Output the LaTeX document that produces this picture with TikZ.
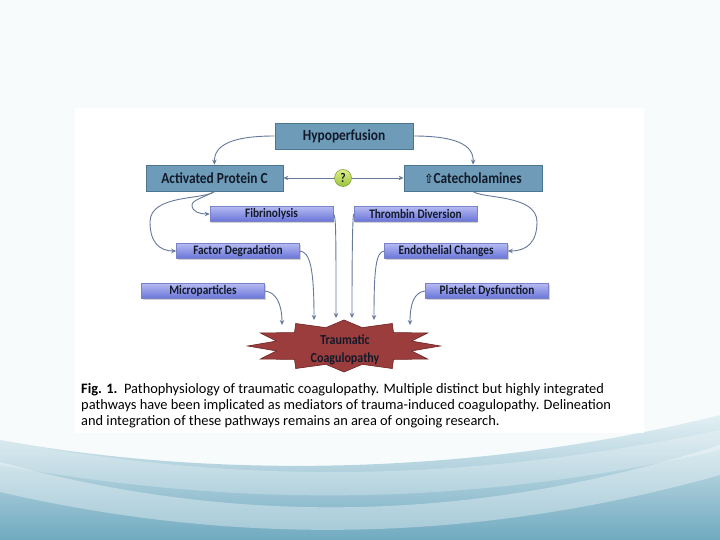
\documentclass[tikz,border=0pt]{standalone}
\usepackage{fontspec}
\setmainfont{Carlito}
\newfontfamily\dejavu{DejaVu Sans}
\usetikzlibrary{arrows.meta,calc,shadows}
\newcommand{\vstr}[1]{\scalebox{1}[1.15]{#1}}
\definecolor{bgtop}{HTML}{F7FBFC}
\definecolor{wavetop}{HTML}{E4F0F4}
\definecolor{wavebot}{HTML}{70AAC0}
\definecolor{bigfill}{HTML}{6E9CB8}
\definecolor{bigline}{HTML}{4C7590}
\definecolor{smtop}{HTML}{B4BAF2}
\definecolor{smbot}{HTML}{6A74D8}
\definecolor{smline}{HTML}{7A82C8}
\definecolor{conncol}{HTML}{65799A}
\definecolor{txtcol}{HTML}{121A2A}
\definecolor{starfill}{HTML}{9C3D3D}
\definecolor{starline}{HTML}{6E2222}
\definecolor{qtop}{HTML}{E2F08A}
\definecolor{qbot}{HTML}{97C23A}
\begin{document}
\begin{tikzpicture}[x=1pt,y=-1pt,
  bigbox/.style={draw=bigline, line width=0.8pt, fill=bigfill, inner sep=0pt,
    minimum height=26pt, text=txtcol, font=\fontsize{13.4}{15}\selectfont\bfseries},
  smallbox/.style={draw=smline, line width=0.5pt, top color=smtop, bottom color=smbot,
    inner sep=0pt, minimum height=15pt, minimum width=123pt, text=txtcol,
    font=\fontsize{11.3}{13}\selectfont\bfseries,
    drop shadow={shadow xshift=1.2pt, shadow yshift=-1.2pt, opacity=0.35}},
  conn/.style={draw=conncol, line width=0.9pt, -{Stealth[length=5pt,width=4.5pt]}},
]
\useasboundingbox (0,0) rectangle (720,540);
% background slide
\fill[bgtop] (0,0) rectangle (720,540);
\shade[top color=wavetop, bottom color=wavebot]
  (0,440) .. controls (220,480) and (480,475) .. (720,415) -- (720,540) -- (0,540) -- cycle;
\fill[white, opacity=0.35]
  (0,462) .. controls (230,525) and (470,525) .. (720,445) -- (720,475)
  .. controls (470,545) and (230,545) .. (0,492) -- cycle;
\fill[white, opacity=0.25]
  (0,440) .. controls (250,488) and (480,480) .. (720,430) -- (720,450)
  .. controls (480,505) and (250,510) .. (0,465) -- cycle;
% figure panel
\fill[white] (75,108) rectangle (644,433);

% nodes
\node[bigbox, minimum width=138pt] (hypo) at (344,136) {\vstr{Hypoperfusion}};
\node[bigbox, minimum width=137pt] (apc) at (214.5,178) {\vstr{Activated Protein C}};
\node[bigbox, minimum width=138pt] (cat) at (473,178) {\vstr{{\dejavu\fontsize{11}{12}\selectfont ⇧}Catecholamines}};
\node[circle, draw=qbot!80!black, line width=0.5pt, top color=qtop, bottom color=qbot,
  minimum size=17pt, inner sep=0pt, text=txtcol,
  font=\fontsize{11.5}{12}\selectfont\bfseries] (q) at (343,178) {\vstr{?}};

\node[smallbox] (fib) at (271.5,214) {\vstr{Fibrinolysis}};
\node[smallbox] (td) at (415.5,214) {\vstr{Thrombin Diversion}};
\node[smallbox] (fd) at (238,251) {\vstr{Factor Degradation}};
\node[smallbox] (ec) at (446,251) {\vstr{Endothelial Changes}};
\node[smallbox] (mp) at (203,291) {\vstr{Microparticles}};
\node[smallbox] (pd) at (487,291) {\vstr{Platelet Dysfunction}};

% star
\draw[fill=starfill, draw=starline, line width=0.6pt]
  (440.5,346) \foreach \i in {1,...,23} {
    -- ({344+(83.25+13.25*cos(180*\i))*cos(15*\i)}, {346-(22.5+3.5*cos(180*\i))*sin(15*\i)}) } -- cycle;
\node[align=center, text=txtcol, inner sep=0pt,
  font=\fontsize{12}{17.5}\selectfont\bfseries] (tc) at (345,350)
  {\vstr{Traumatic}\\\vstr{Coagulopathy}};

\coordinate (e1) at (282,325);
\coordinate (e2) at (314,320);
\coordinate (e3) at (336,318);
\coordinate (e4) at (352,318);
\coordinate (e5) at (374,320);
\coordinate (e6) at (410,325);

% connectors
\draw[conn] (hypo.west) .. controls (232,136) and (214,145) .. (apc.north);
\draw[conn] (hypo.east) .. controls (456,136) and (474,145) .. (cat.north);
\draw[conn] (q) -- (apc.east);
\draw[conn] (q) -- (cat.west);
\draw[conn] (apc.south) .. controls (205,200) and (150,194) .. (150,222)
  .. controls (150,243) and (160,251) .. (fd.west);
\draw[conn] (apc.south) .. controls (205,197) and (192,200) .. (192,205)
  .. controls (192,212) and (200,214) .. (fib.west);
\draw[conn] (cat.south) .. controls (482,199) and (537,194) .. (537,222)
  .. controls (537,243) and (526,251) .. (ec.east);
\draw[conn] (fib.east) .. controls (336,215) and (336,230) .. (e3);
\draw[conn] (td.west) .. controls (353,215) and (352,230) .. (e4);
\draw[conn] (fd.east) .. controls (310,252) and (314,268) .. (e2);
\draw[conn] (ec.west) .. controls (376,252) and (374,268) .. (e5);
\draw[conn] (mp.east) .. controls (276,292) and (282,304) .. (e1);
\draw[conn] (pd.west) .. controls (414,292) and (410,304) .. (e6);

% caption
\node[anchor=north west, align=left, inner sep=0pt, text=black,
  font=\fontsize{14.4}{16}\selectfont] (cap) at (81,383)
  {\textbf{Fig. 1.}\ \ Pathophysiology of traumatic coagulopathy. Multiple distinct but highly integrated\\
   pathways have been implicated as mediators of trauma-induced coagulopathy. Delineation\\
   and integration of these pathways remains an area of ongoing research.};
\end{tikzpicture}
\end{document}
